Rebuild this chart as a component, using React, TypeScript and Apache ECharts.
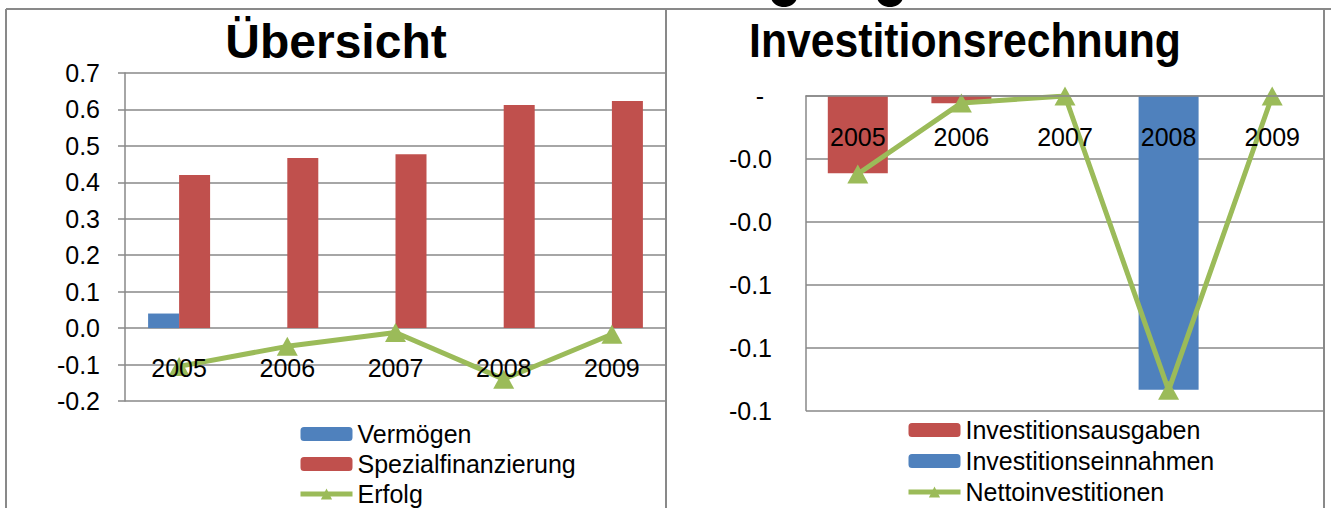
import React, { useEffect, useRef } from "react";
import * as echarts from "echarts";

const years = ["2005", "2006", "2007", "2008", "2009"];
const vermoegen = [0.04, 0, 0, 0, 0];
const spezialfinanzierung = [0.42, 0.467, 0.477, 0.612, 0.623];
const erfolg = [-0.105, -0.05, -0.012, -0.14, -0.017];
const investitionsausgaben = [-0.0246, -0.0023, 0, 0, 0];
const investitionseinnahmen = [0, 0, 0, -0.0934, 0];
const nettoinvestitionen = [-0.0248, -0.0022, 0, -0.0936, 0];
const leftTitle = "Übersicht";
const rightTitle = "Investitionsrechnung";

const RED = "#C0504D";
const BLUE = "#4F81BD";
const GREEN = "#9BBB59";
const GRAY = "#898989";
const FONT = "Liberation Sans, Arial, sans-serif";

echarts.graphic.registerShape(
  "gtail",
  echarts.graphic.extendPath(
    "M0,0 C0,10 6,15 14,15 C22,15 28,10 28,0 L21,0 C21,5 18,8 14,8 C10,8 7,5 7,0 Z",
    {}
  ) as any
);

export default function App() {
  const ref = useRef<HTMLDivElement>(null);
  useEffect(() => {
    if (!ref.current) return;
    const chart = echarts.init(ref.current, null, { renderer: "svg" });
    const axisText = { color: "#000", fontSize: 25, fontFamily: FONT };
    const legendText = { color: "#000", fontSize: 25, lineHeight: 25, fontFamily: FONT };
    const option: any = {
      animation: false,
      backgroundColor: "#fff",
      textStyle: { fontFamily: FONT },
      grid: [
        { left: 125, top: 73, width: 541, height: 328 },
        { left: 806, top: 96, width: 518, height: 314.5 },
      ],
      xAxis: [
        {
          type: "category",
          gridIndex: 0,
          data: years,
          position: "bottom",
          z: 10,
          axisLine: { show: false, onZero: false },
          axisTick: { show: false },
          axisLabel: { ...axisText, inside: true, margin: 21 },
        },
        {
          type: "category",
          gridIndex: 1,
          data: years,
          position: "top",
          z: 10,
          axisLine: { show: true, onZero: false, lineStyle: { color: GRAY, width: 1.5 } },
          axisTick: { show: false },
          axisLabel: { ...axisText, inside: true, margin: 28 },
        },
      ],
      yAxis: [
        {
          type: "value",
          gridIndex: 0,
          min: -0.2,
          max: 0.7,
          interval: 0.1,
          axisLine: { show: true, lineStyle: { color: GRAY, width: 1.5 } },
          axisTick: { show: true, length: 7, lineStyle: { color: GRAY, width: 1.5 } },
          splitLine: { lineStyle: { color: GRAY, width: 1.5 } },
          axisLabel: { ...axisText, margin: 25, formatter: (v: number) => v.toFixed(1) },
        },
        {
          type: "value",
          gridIndex: 1,
          min: -0.1,
          max: 0,
          interval: 0.02,
          axisLine: { show: true, lineStyle: { color: GRAY, width: 1.5 } },
          axisTick: { show: false },
          splitLine: { lineStyle: { color: GRAY, width: 1.5 } },
          axisLabel: {
            ...axisText,
            margin: 34,
            formatter: (v: number) => (Math.abs(v) < 1e-9 ? "{d|-}" : v.toFixed(1)),
            rich: { d: { fontSize: 25, color: "#000", fontFamily: FONT, padding: [0, 8, 0, 0] } },
          },
        },
      ],
      legend: [
        {
          orient: "vertical",
          left: 298,
          top: 421.5,
          height: 92,
          padding: 0,
          itemWidth: 52,
          itemHeight: 14,
          itemGap: 5,
          selectedMode: false,
          textStyle: legendText,
          data: [
            { name: "Vermögen" },
            { name: "Spezialfinanzierung" },
            { name: "Erfolg", lineStyle: { width: 5, color: GREEN } },
          ],
        },
        {
          orient: "vertical",
          left: 906,
          top: 417.5,
          height: 92,
          padding: 0,
          itemWidth: 52,
          itemHeight: 14,
          itemGap: 6,
          selectedMode: false,
          textStyle: legendText,
          data: [
            { name: "Investitionsausgaben" },
            { name: "Investitionseinnahmen" },
            { name: "Nettoinvestitionen", lineStyle: { width: 5, color: GREEN } },
          ],
        },
      ],
      series: [
        {
          name: "Vermögen",
          type: "bar",
          xAxisIndex: 0,
          yAxisIndex: 0,
          data: vermoegen,
          barWidth: 31,
          barGap: "0%",
          itemStyle: { color: BLUE },
        },
        {
          name: "Spezialfinanzierung",
          type: "bar",
          xAxisIndex: 0,
          yAxisIndex: 0,
          data: spezialfinanzierung,
          barWidth: 31,
          barGap: "0%",
          itemStyle: { color: RED },
        },
        {
          name: "Erfolg",
          type: "line",
          xAxisIndex: 0,
          yAxisIndex: 0,
          data: erfolg,
          symbol: "triangle",
          symbolSize: [21, 19],
          lineStyle: { color: GREEN, width: 5 },
          itemStyle: { color: GREEN },
        },
        {
          name: "Investitionsausgaben",
          type: "bar",
          xAxisIndex: 1,
          yAxisIndex: 1,
          stack: "inv",
          data: investitionsausgaben,
          barWidth: 60,
          itemStyle: { color: RED },
        },
        {
          name: "Investitionseinnahmen",
          type: "bar",
          xAxisIndex: 1,
          yAxisIndex: 1,
          stack: "inv",
          data: investitionseinnahmen,
          barWidth: 60,
          itemStyle: { color: BLUE },
        },
        {
          name: "Nettoinvestitionen",
          type: "line",
          xAxisIndex: 1,
          yAxisIndex: 1,
          data: nettoinvestitionen,
          symbol: "triangle",
          symbolSize: [21, 19],
          lineStyle: { color: GREEN, width: 5 },
          itemStyle: { color: GREEN },
        },
      ],
      graphic: [
        { type: "line", shape: { x1: 6, y1: 9, x2: 1331, y2: 9 }, style: { stroke: GRAY, lineWidth: 2 } },
        { type: "line", shape: { x1: 6, y1: 9, x2: 6, y2: 508 }, style: { stroke: GRAY, lineWidth: 2 } },
        { type: "line", shape: { x1: 666, y1: 9, x2: 666, y2: 508 }, style: { stroke: GRAY, lineWidth: 2 } },
        { type: "line", shape: { x1: 1324, y1: 9, x2: 1324, y2: 508 }, style: { stroke: GRAY, lineWidth: 2 } },
        { type: "gtail", x: 770, y: -8, style: { fill: "#000" } },
        { type: "gtail", x: 876, y: -8, style: { fill: "#000" } },
        {
          type: "text",
          x: 336,
          y: 41,
          style: {
            text: leftTitle,
            font: "bold 48px Liberation Sans, Arial, sans-serif",
            fill: "#000",
            textAlign: "center",
            textVerticalAlign: "middle",
          },
        },
        {
          type: "text",
          x: 965,
          y: 41,
          scaleX: 0.89,
          style: {
            text: rightTitle,
            font: "bold 48px Liberation Sans, Arial, sans-serif",
            fill: "#000",
            textAlign: "center",
            textVerticalAlign: "middle",
          },
        },
      ],
    };
    chart.setOption(option);
    return () => chart.dispose();
  }, []);
  return (
    <div
      ref={ref}
      style={{ position: "fixed", left: 0, top: 0, width: 1331, height: 508, background: "#fff" }}
    />
  );
}
